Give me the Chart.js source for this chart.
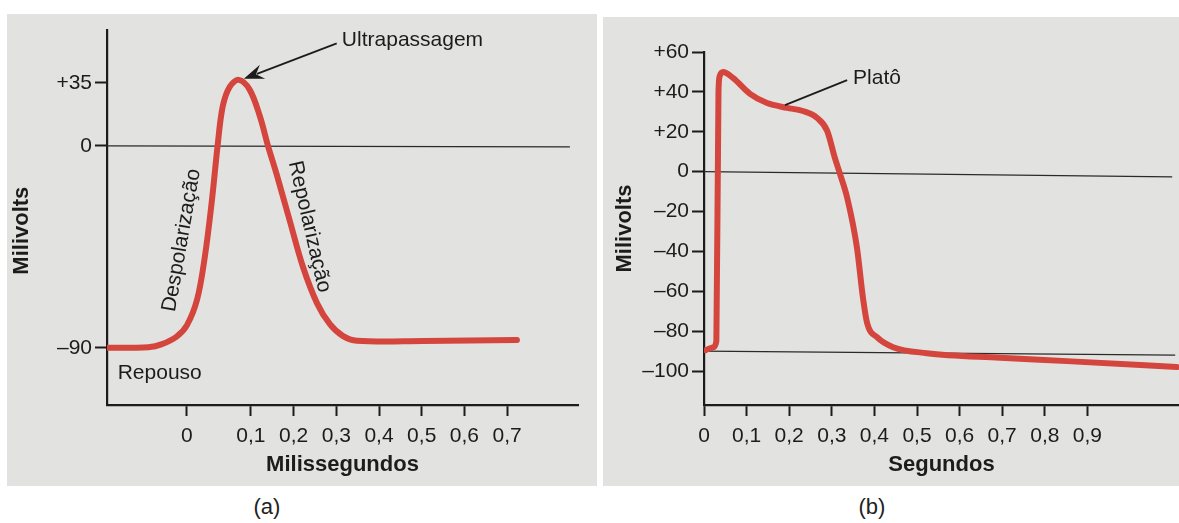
<!DOCTYPE html>
<html>
<head>
<meta charset="utf-8">
<script src="https://cdn.jsdelivr.net/npm/chart.js@4.4.1/dist/chart.umd.min.js"></script>
<style>
    body { margin: 0; background: #fff; width: 1179px; height: 523px; overflow: hidden; position: relative; font-family: 'Liberation Sans', Arial, sans-serif; }
    .panel { position: absolute; background: #e2e3e0; }
    #pa { left: 7px; top: 14px; width: 590px; height: 472px; }
    #pb { left: 603px; top: 17px; width: 576px; height: 469px; }
    .cap { position: absolute; top: 494px; width: 60px; text-align: center; font-size: 22px; color: #222; }
</style>
</head>
<body>
<div class="panel" id="pa"><canvas id="ca" width="590" height="472"></canvas></div>
<div class="panel" id="pb"><canvas id="cb" width="576" height="469"></canvas></div>
<div class="cap" style="left:237px">(a)</div>
<div class="cap" style="left:842px">(b)</div>
<script>
// (a) potencial de ação do neurônio
const A_TIME = [-0.125, -0.09, -0.06, -0.04, -0.016, 0, 0.016, 0.028, 0.039, 0.048, 0.056, 0.067, 0.081, 0.098, 0.121, 0.140, 0.161, 0.191, 0.222, 0.255, 0.285, 0.315, 0.348, 0.503, 0.723]
const A_MV = [-90, -90, -89.8, -88.5, -85, -80, -68.5, -49.6, -24.6, 0, 21.9, 32.8, 36.6, 31.2, 16.4, 0, -13.2, -33.4, -54, -70.2, -79.5, -84.7, -86.9, -87, -86.5]
const A_ZERO_TIME = [-0.125, 0.847]
const A_ZERO_MV = [0, -0.5]
const A_X_TICKS = [0, 0.1, 0.2, 0.3, 0.4, 0.5, 0.6, 0.7]
const A_X_LABELS = ['0', '0,1', '0,2', '0,3', '0,4', '0,5', '0,6', '0,7']
const A_Y_TICKS = [-90, 0, 35]
const A_Y_LABELS = ['–90', '0', '+35']

// (b) potencial de ação cardíaco
const B_TIME = [0.004, 0.022, 0.029, 0.034, 0.037, 0.045, 0.068, 0.108, 0.148, 0.195, 0.232, 0.265, 0.289, 0.307, 0.319, 0.336, 0.359, 0.373, 0.383, 0.406, 0.444, 0.523, 0.695, 0.852, 1.11]
const B_MV = [-89.5, -88, -85, 40, 48, 50, 47, 39, 34.4, 32, 30.4, 27, 20.5, 7, -1, -13, -38, -63, -76, -83, -88, -91, -93.3, -95, -98]
const B_ZERO_TIME = [0, 1.099]
const B_ZERO_MV = [0, -2.6]
const B_REST_TIME = [0, 1.106]
const B_REST_MV = [-90, -92]
const B_X_TICKS = [0, 0.1, 0.2, 0.3, 0.4, 0.5, 0.6, 0.7, 0.8, 0.9]
const B_X_LABELS = ['0', '0,1', '0,2', '0,3', '0,4', '0,5', '0,6', '0,7', '0,8', '0,9']
const B_Y_TICKS = [-100, -80, -60, -40, -20, 0, 20, 40, 60]
const B_Y_LABELS = ['–100', '–80', '–60', '–40', '–20', '0', '+20', '+40', '+60']

const RED = '#d4453d'
const INK = '#1c1c1c'
const FONT = "'Liberation Sans', Arial, sans-serif"

// linear scale whose value->pixel mapping is piecewise (the figure is schematic)
class WarpScale extends Chart.LinearScale {
    static id = 'warp'

    mapVal(v, from, to) {
        const b = this.options.breaks
        if (!b) return v
        let i = 0
        while (i < b.length - 2 && v > b[i + 1][from]) i++
        const p = b[i], q = b[i + 1]
        return p[to] + (v - p[from]) * (q[to] - p[to]) / (q[from] - p[from])
    }

    getPixelForValue(value) {
        if (value === null || value === undefined) return NaN
        return super.getPixelForValue(this.mapVal(value, 0, 1))
    }

    getValueForPixel(pixel) {
        return this.mapVal(super.getValueForPixel(pixel), 1, 0)
    }
}
Chart.register(WarpScale)

const points = (xs, ys) => xs.map((x, i) => ({ x, y: ys[i] }))

function notesPlugin(items) {
    return {
        id: 'notes',
        afterDatasetsDraw(chart) {
            const { ctx, scales: { x, y } } = chart
            ctx.save()
            ctx.fillStyle = INK
            ctx.strokeStyle = INK
            for (const n of items) {
                if (n.from) {
                    const x1 = x.getPixelForValue(n.from[0]), y1 = y.getPixelForValue(n.from[1])
                    const x2 = x.getPixelForValue(n.to[0]), y2 = y.getPixelForValue(n.to[1])
                    const a = Math.atan2(y2 - y1, x2 - x1)
                    const c = Math.cos(a), s = Math.sin(a)
                    const head = n.arrow ? 20 : 0
                    ctx.lineWidth = 1.8
                    ctx.beginPath()
                    ctx.moveTo(x1, y1)
                    ctx.lineTo(x2 - c * head * 0.7, y2 - s * head * 0.7)
                    ctx.stroke()
                    if (n.arrow) {
                        ctx.beginPath()
                        ctx.moveTo(x2, y2)
                        ctx.lineTo(x2 - c * head + s * 7.5, y2 - s * head - c * 7.5)
                        ctx.lineTo(x2 - c * head * 0.65, y2 - s * head * 0.65)
                        ctx.lineTo(x2 - c * head - s * 7.5, y2 - s * head + c * 7.5)
                        ctx.closePath()
                        ctx.fill()
                    }
                } else {
                    ctx.save()
                    ctx.translate(x.getPixelForValue(n.at[0]), y.getPixelForValue(n.at[1]))
                    ctx.rotate((n.rotate || 0) * Math.PI / 180)
                    ctx.font = n.bold ? `bold 22px ${FONT}` : `21px ${FONT}`
                    ctx.textAlign = n.align || 'center'
                    ctx.textBaseline = 'middle'
                    ctx.fillText(n.text, 0, 0)
                    ctx.restore()
                }
            }
            ctx.restore()
        }
    }
}

function axis(opts) {
    const { ticks, labels, tickLength, padding, width, height, title, titlePad } = opts
    return {
        type: opts.type,
        breaks: opts.breaks,
        min: opts.min,
        max: opts.max,
        afterBuildTicks: scale => { scale.ticks = ticks.map(value => ({ value })) },
        afterFit: scale => {
            if (width !== undefined) scale.width = width
            if (height !== undefined) scale.height = height
        },
        border: { display: true, color: INK, width: 2.2 },
        grid: { drawOnChartArea: false, drawTicks: true, tickLength, tickWidth: 2, tickColor: INK },
        ticks: {
            autoSkip: false, maxRotation: 0, minRotation: 0, padding,
            color: INK, font: { family: FONT, size: 21 },
            callback: (v, i) => labels[i],
        },
        title: {
            display: !!title, text: title, color: INK,
            font: { family: FONT, size: 22, weight: 'bold' },
            padding: titlePad,
        },
    }
}

function thin(xs, ys) {
    return { data: points(xs, ys), borderColor: '#2a2a2a', borderWidth: 1.3, pointRadius: 0, tension: 0 }
}

function baseOptions(padding) {
    return {
        responsive: false,
        animation: false,
        devicePixelRatio: 1,
        layout: { padding },
        plugins: { legend: { display: false }, tooltip: { enabled: false } },
        elements: { point: { radius: 0 } },
    }
}

new Chart(document.getElementById('ca'), {
    type: 'line',
    data: {
        datasets: [
            { data: points(A_TIME, A_MV), borderColor: RED, borderWidth: 6, tension: 0.35, borderCapStyle: 'round' },
            thin(A_ZERO_TIME, A_ZERO_MV),
        ],
    },
    options: {
        ...baseOptions({ left: 0, right: 19, top: 10, bottom: 0 }),
        scales: {
            x: axis({
                type: 'warp', breaks: [[-1, -1.5], [0, 0], [0.1, 0.15], [2, 2.05]], min: -0.187, max: 0.916,
                ticks: A_X_TICKS, labels: A_X_LABELS, tickLength: 11, padding: 8, height: 81,
                title: 'Milissegundos', titlePad: { top: 0, bottom: 8 },
            }),
            y: axis({
                type: 'warp', breaks: [[-200, -200], [0, 0], [35, 28.1], [100, 80.3]], min: -115.5, max: 51.8,
                ticks: A_Y_TICKS, labels: A_Y_LABELS, tickLength: 12, padding: 3, width: 100,
            }),
        },
    },
    plugins: [notesPlugin([
        { text: 'Milivolts', at: [-0.258, -37.8], rotate: -90, bold: true },
        { text: 'Ultrapassagem', at: [0.313, 58.5], align: 'left' },
        { from: [0.301, 56.9], to: [0.089, 37.2], arrow: true },
        { text: 'Despolarização', at: [-0.008, -42.1], rotate: -80 },
        { text: 'Repolarização', at: [0.237, -36], rotate: 77 },
        { text: 'Repouso', at: [-0.108, -101.4], align: 'left' },
    ])],
})

new Chart(document.getElementById('cb'), {
    type: 'line',
    data: {
        datasets: [
            { data: points(B_TIME, B_MV), borderColor: RED, borderWidth: 6, cubicInterpolationMode: 'monotone', borderCapStyle: 'round' },
            thin(B_ZERO_TIME, B_ZERO_MV),
            thin(B_REST_TIME, B_REST_MV),
        ],
    },
    options: {
        ...baseOptions({ left: 0, right: 0, top: 35, bottom: 0 }),
        scales: {
            x: axis({
                type: 'linear', min: 0, max: 1.115,
                ticks: B_X_TICKS, labels: B_X_LABELS, tickLength: 11, padding: 8, height: 81,
                title: 'Segundos', titlePad: { top: 0, bottom: 8 },
            }),
            y: axis({
                type: 'linear', min: -117, max: 60,
                ticks: B_Y_TICKS, labels: B_Y_LABELS, tickLength: 12, padding: 3, width: 101,
                title: 'Milivolts', titlePad: { top: 9, bottom: 0 },
            }),
        },
    },
    plugins: [notesPlugin([
        { text: 'Platô', at: [0.350, 46.9], align: 'left' },
        { from: [0.336, 45.9], to: [0.190, 33.4] },
    ])],
})
</script>
</body>
</html>
